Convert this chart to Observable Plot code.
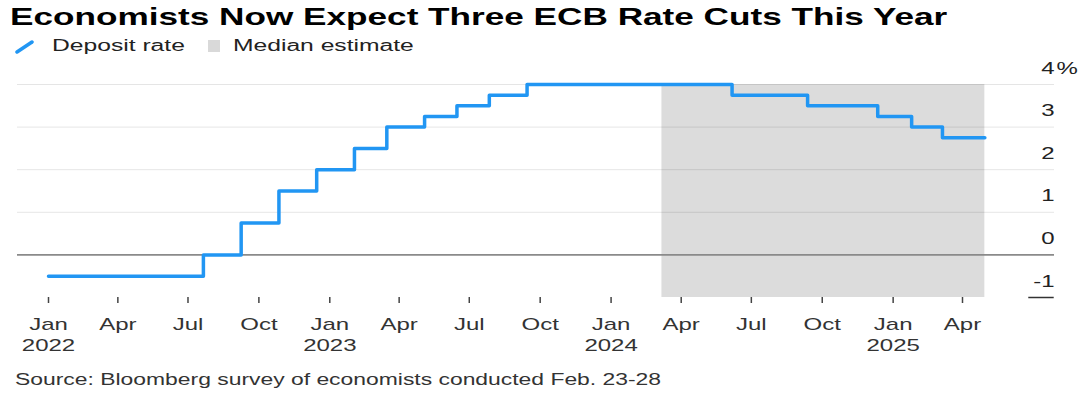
<!DOCTYPE html>
<html><head><meta charset="utf-8">
<script src="https://cdn.jsdelivr.net/npm/d3@7"></script>
<script src="https://cdn.jsdelivr.net/npm/@observablehq/plot@0.6"></script>
<style>
html,body{margin:0;padding:0;background:#fff}
body{width:1090px;height:400px;overflow:hidden;position:relative;font-family:"Liberation Sans",Arial,sans-serif}
.s{position:absolute;white-space:nowrap;transform-origin:0 50%}
#title{left:10px;top:0;height:34px;line-height:34px;font-size:24px;font-weight:bold;color:#000;transform:scaleX(1.465)}
#legend{position:absolute;left:0;top:34px;height:24px;width:600px}
.lt{top:0;height:24px;line-height:24px;font-size:16px;color:#222;transform:scaleX(1.54)}
#chart{position:absolute;left:0;top:58px}
#caption{left:15px;top:358px;height:44px;line-height:44px;font-size:16px;color:#333;transform:scaleX(1.43)}
</style></head>
<body>
<div id="title" class="s">Economists Now Expect Three ECB Rate Cuts This Year</div>
<div id="legend">
  <svg style="position:absolute;left:15px;top:6px" width="20" height="14"><line x1="2" y1="12" x2="17" y2="2" stroke="#2196f3" stroke-width="3.5" stroke-linecap="round"/></svg>
  <div class="s lt" style="left:52px">Deposit rate</div>
  <div style="position:absolute;left:208px;top:6px;width:12px;height:12px;background:#d9d9d9"></div>
  <div class="s lt" style="left:233px">Median estimate</div>
</div>
<div id="chart"></div>
<div id="caption" class="s">Source: Bloomberg survey of economists conducted Feb. 23-28</div>
<script>
// ---- data ----
const rateDates = ["2022-01-01","2022-07-21","2022-09-08","2022-10-27","2022-12-15","2023-02-02","2023-03-16","2023-05-04","2023-06-15","2023-07-27","2023-09-14","2024-06-06","2024-09-12","2024-12-12","2025-01-25","2025-03-06","2025-04-30"];
const rateValues = [-0.5, 0, 0.75, 1.5, 2.0, 2.5, 3.0, 3.25, 3.5, 3.75, 4.0, 3.75, 3.5, 3.25, 3.0, 2.75, 2.75];
const estimateStart = "2024-03-07";
const estimateEnd = "2025-04-30";
const xDomain = ["2022-01-01", "2025-04-01"];
const xTickDates = ["2022-01-01","2022-04-01","2022-07-01","2022-10-01","2023-01-01","2023-04-01","2023-07-01","2023-10-01","2024-01-01","2024-04-01","2024-07-01","2024-10-01","2025-01-01","2025-04-01"];
const monthNames = ["Jan","Feb","Mar","Apr","May","Jun","Jul","Aug","Sep","Oct","Nov","Dec"];
const yTicks = [-1, 0, 1, 2, 3, 4];
const gridValues = [1, 2, 3, 4];
const zeroValue = [0];
const baseValue = [-1];
const baseRuleFrom = "2025-06-26";
const baseRuleTo = "2025-07-29";

const P = s => new Date(s + "T00:00:00Z");
const rates = rateDates.map((d, i) => ({date: P(d), value: rateValues[i]}));
const estimate = [{start: P(estimateStart), end: P(estimateEnd)}];
const fmt = d => monthNames[d.getUTCMonth()] + (d.getUTCMonth() === 0 ? "\n" + d.getUTCFullYear() : "");

const chart = Plot.plot({
  width: 1090, height: 300,
  marginTop: 26, marginBottom: 61, marginLeft: 17, marginRight: 36,
  style: {fontFamily: '"Liberation Sans", Arial, sans-serif', fontSize: "16px", color: "#333", background: "transparent"},
  x: {type: "utc", domain: xDomain.map(P), range: [48, 962], label: null},
  y: {domain: [-1, 4], range: [239, 26], label: null},
  marks: [
    Plot.rect(estimate, {x1: "start", x2: "end", fill: "#dcdcdc"}),
    Plot.ruleY(gridValues, {stroke: "#000", strokeOpacity: 0.1, strokeWidth: 1}),
    Plot.ruleY(zeroValue, {stroke: "#8a8a8a", strokeWidth: 1.6}),
    Plot.ruleY(baseValue, {x1: () => P(baseRuleFrom), x2: () => P(baseRuleTo), stroke: "#333", strokeWidth: 1.5}),
    Plot.line(rates, {x: "date", y: "value", curve: "step-after", stroke: "#2196f3", strokeWidth: 3.5}),
    Plot.axisX(xTickDates.map(P), {label: null, tickSize: 6, tickPadding: 12, tickFormat: fmt, stroke: "#444", strokeWidth: 1.5, fill: "#333", fontSize: 16, lineHeight: 1.3}),
    Plot.axisY(yTicks, {label: null, anchor: "right", tickSize: 0, tickPadding: 0, textAnchor: "end", dy: -16, tickFormat: d => String(d), fill: "#222", fontSize: 16}),
    Plot.text([4], {y: d => d, text: () => "%", frameAnchor: "right", textAnchor: "start", dx: 2, dy: -16, fill: "#222", fontSize: 16})
  ]
});
chart.querySelectorAll("text").forEach(t => {
  const tr = t.getAttribute("transform") || "";
  t.setAttribute("transform", tr + " scale(1.5,1)");
});
document.getElementById("chart").appendChild(chart);
</script>
</body></html>
